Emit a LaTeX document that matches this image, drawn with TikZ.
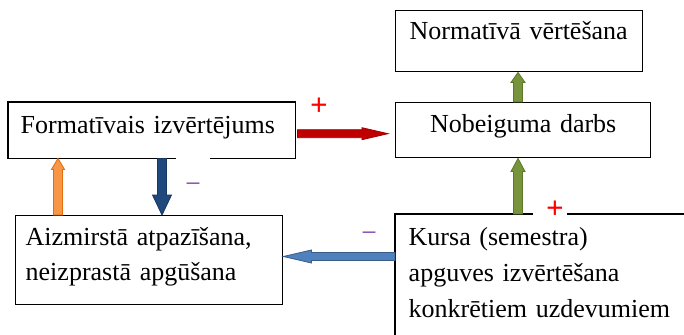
\documentclass[tikz,border=0pt]{standalone}
\usepackage{fontspec}
\setmainfont{Liberation Serif}
\usetikzlibrary{calc}

\definecolor{redfill}{HTML}{C00000}
\definecolor{redline}{HTML}{A00000}
\definecolor{greenfill}{HTML}{77933C}
\definecolor{greenline}{HTML}{5A7A2A}
\definecolor{orangefill}{HTML}{F79646}
\definecolor{orangeline}{HTML}{E46C0A}
\definecolor{navyfill}{HTML}{1F497D}
\definecolor{navyline}{HTML}{17375E}
\definecolor{bluefill}{HTML}{4F81BD}
\definecolor{blueline}{HTML}{385D8A}
\definecolor{signred}{HTML}{FF0000}
\definecolor{signpurple}{HTML}{7030A0}

% block arrow: start, end, half shaft width, half head width, head length, style
\newcommand\blockarrow[6]{%
  \coordinate (hb) at ($(#2)!#5!(#1)$);
  \filldraw[#6] ($(#1)!#3!90:(#2)$) -- ($(hb)!#3!-90:(#1)$)
    -- ($(hb)!#4!-90:(#1)$) -- (#2) -- ($(hb)!#4!90:(#1)$)
    -- ($(hb)!#3!90:(#1)$) -- ($(#1)!#3!-90:(#2)$) -- cycle;
}

\begin{document}
\begin{tikzpicture}[x=1pt,y=-1pt,
  box/.style={rectangle, anchor=north west, inner ysep=0pt, align=left,
    font=\fontsize{26}{35}\selectfont, line width=1.4pt},
  plussign/.style={inner sep=0pt, text=signred, font=\fontsize{31}{31}\selectfont\bfseries},
  minussign/.style={inner sep=0pt, text=signpurple, font=\fontsize{25}{25}\selectfont},
  arr/.style={line width=0.8pt, line join=miter}]
\useasboundingbox[fill=white] (0,0) rectangle (684,334);

% boxes
\node[box, draw, text width=219pt, inner xsep=14pt, text height=29pt, text depth=32pt]
  (norm) at (395,10) {Normatīvā vērtēšana};
\node[box, text width=262pt, inner xsep=12pt, text height=31pt, text depth=24pt]
  (form) at (8,102) {Formatīvais izvērtējums};
\node[box, draw, text width=255pt, inner xsep=0pt, align=center, text height=30pt, text depth=25pt]
  (nob) at (395,102) {Nobeiguma darbs};
\node[box, draw, text width=247pt, inner xsep=10pt, text height=30pt, text depth=59pt]
  (aiz) at (15,215) {Aizmirstā atpazīšana,\\neizprastā apgūšana};
\node[box, text width=300pt, inner xsep=13pt, text height=31pt, text depth=136pt,
  font=\fontsize{26}{36}\selectfont]
  (kursa) at (395,214) {Kursa (semestra)\\apguves izvērtēšana\\konkrētiem uzdevumiem};

% open borders
\draw[line width=1.4pt] (form.south -| 176,0) -- (form.south west) -- (form.north west)
  -- (form.north east) -- (form.south east) -- (form.south -| 210,0);
\draw[line width=1.4pt] (kursa.north -| 533,0) -- (kursa.north west) -- (kursa.south west);
\draw[line width=1.4pt] (kursa.north -| 567,0) -- (kursa.north east) -- (kursa.south east);

% signs
\node[plussign] (p1) at (319,107) {+};
\node[plussign] (p2) at (555,210) {+};
\node[minussign] (m1) at (193,186) {–};
\node[minussign] (m2) at (369,235) {–};

% connectors
\coordinate (rS) at ($(form.east)+(2,3.5)$);
\coordinate (rE) at ($(nob.west)+(-7,3.5)$);
\blockarrow{rS}{rE}{4pt}{6pt}{26pt}{arr, fill=redfill, draw=redline}

\coordinate (g1S) at (nob.north -| 518,0);
\coordinate (g1E) at (norm.south -| 518,0);
\blockarrow{g1S}{g1E}{4.5pt}{7pt}{10pt}{arr, fill=greenfill, draw=greenline}

\coordinate (g2S) at (kursa.north -| 518,0);
\coordinate (g2E) at (nob.south -| 518,0);
\blockarrow{g2S}{g2E}{4.5pt}{7pt}{13pt}{arr, fill=greenfill, draw=greenline}

\coordinate (oS) at (aiz.north -| 58,0);
\coordinate (oE) at (form.south -| 58,0);
\blockarrow{oS}{oE}{4.5pt}{6.5pt}{11pt}{arr, fill=orangefill, draw=orangeline}

\coordinate (nS) at (form.south -| 162,0);
\coordinate (nE) at (aiz.north -| 162,0);
\blockarrow{nS}{nE}{4.5pt}{9.5pt}{20pt}{arr, fill=navyfill, draw=navyline}

\coordinate (bS) at (kursa.west |- 0,256.5);
\coordinate (bE) at (aiz.east |- 0,256.5);
\blockarrow{bS}{bE}{4pt}{6.5pt}{28pt}{arr, fill=bluefill, draw=blueline}
\end{tikzpicture}
\end{document}
